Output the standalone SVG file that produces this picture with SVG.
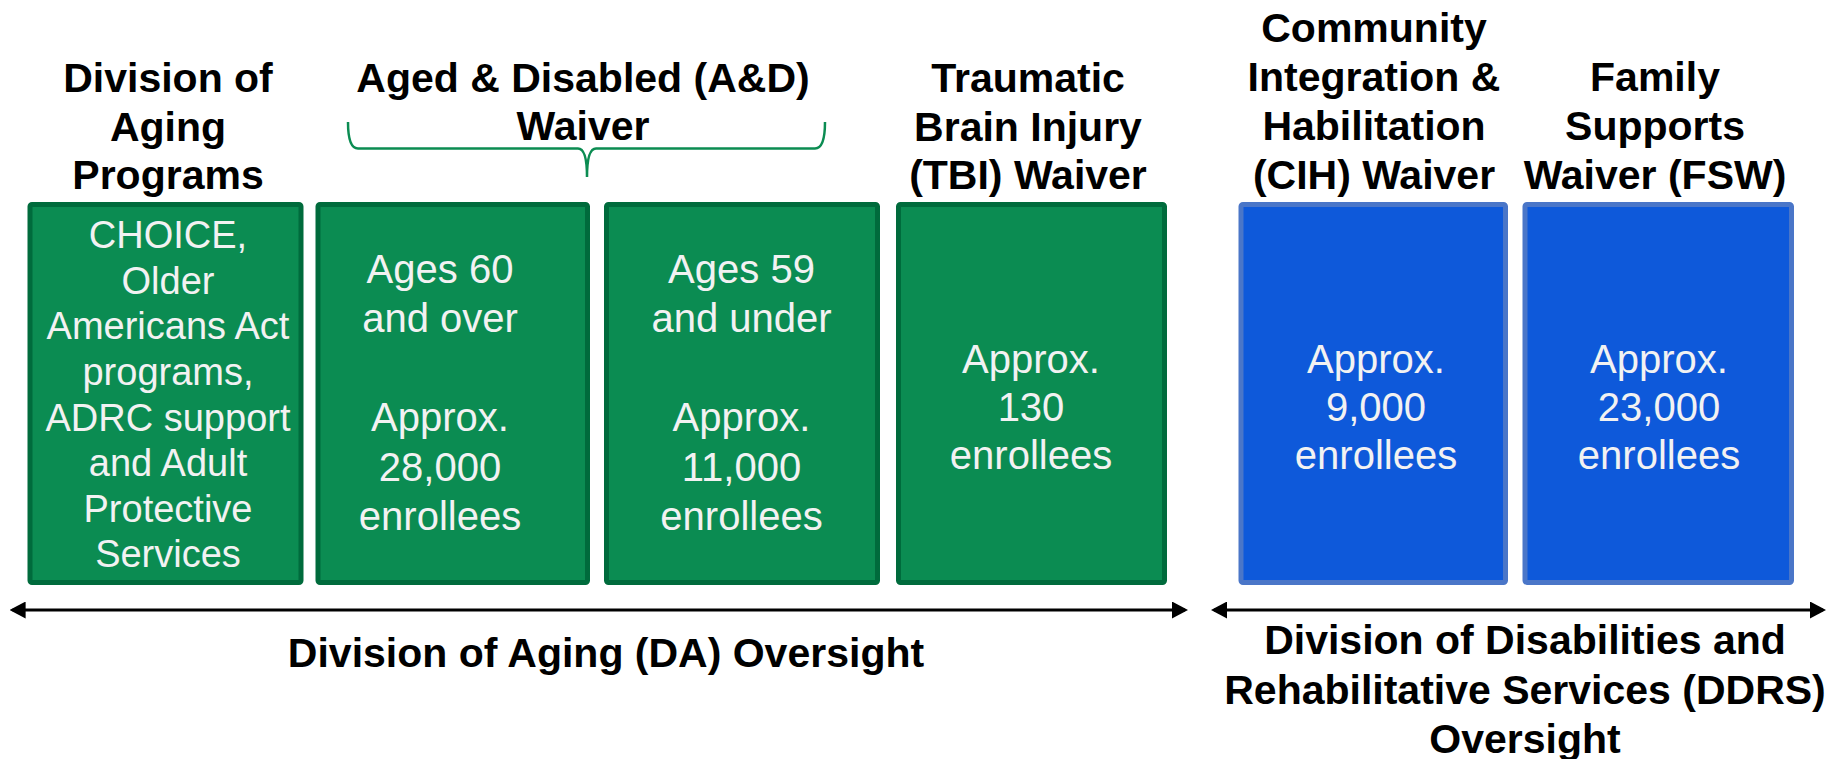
<svg xmlns="http://www.w3.org/2000/svg" width="1843" height="759" viewBox="0 0 1843 759">
<defs>
<style>
.hdr{font-family:"Liberation Sans",Arial,sans-serif;font-weight:bold;font-size:41px;fill:#000;text-anchor:middle}
.bt{font-family:"Liberation Sans",Arial,sans-serif;font-size:40px;fill:#F2F2F2;text-anchor:middle}
.bt1{font-family:"Liberation Sans",Arial,sans-serif;font-size:38px;fill:#F2F2F2;text-anchor:middle}
.gbox{fill:#0B8C52;stroke:#006B3C;stroke-width:5}
.bbox{fill:#0E59DA;stroke:#4A76C8;stroke-width:5}
.arr{stroke:#000;stroke-width:3;fill:none;marker-start:url(#ah);marker-end:url(#ah)}
.brace{stroke:#0B8C52;stroke-width:2.5;fill:none}
</style>
<marker id="ah" viewBox="0 0 16 17" refX="13" refY="8.5" markerWidth="16" markerHeight="17" markerUnits="userSpaceOnUse" orient="auto-start-reverse">
<path d="M0,0 L16,8.5 L0,17 z" fill="#000"/>
</marker>
</defs>
<rect width="1843" height="759" fill="#fff"/>

<g id="hdr-aging">
<text class="hdr" x="168" y="92">Division of</text>
<text class="hdr" x="168" y="140.5">Aging</text>
<text class="hdr" x="168" y="189">Programs</text>
</g>
<g id="hdr-ad">
<text class="hdr" x="583" y="92">Aged &amp; Disabled (A&amp;D)</text>
<text class="hdr" x="583" y="140">Waiver</text>
<path class="brace" d="M348,122 Q348,148.5 358,148.5 L578,148.5 Q587,148.5 587,177 Q587,148.5 596,148.5 L815,148.5 Q825,148.5 825,122"/>
</g>
<g id="hdr-tbi">
<text class="hdr" x="1028" y="92">Traumatic</text>
<text class="hdr" x="1028" y="140.5">Brain Injury</text>
<text class="hdr" x="1028" y="189">(TBI) Waiver</text>
</g>
<g id="hdr-cih">
<text class="hdr" x="1374" y="42">Community</text>
<text class="hdr" x="1374" y="91">Integration &amp;</text>
<text class="hdr" x="1374" y="140">Habilitation</text>
<text class="hdr" x="1374" y="189">(CIH) Waiver</text>
</g>
<g id="hdr-fsw">
<text class="hdr" x="1655" y="91">Family</text>
<text class="hdr" x="1655" y="140">Supports</text>
<text class="hdr" x="1655" y="189">Waiver (FSW)</text>
</g>

<g id="box-aging">
<rect class="gbox" x="30" y="204.5" width="271" height="378" rx="2"/>
<text class="bt1" x="168" y="248">CHOICE,</text>
<text class="bt1" x="168" y="293.7">Older</text>
<text class="bt1" x="168" y="339.4">Americans Act</text>
<text class="bt1" x="168" y="385">programs,</text>
<text class="bt1" x="168" y="430.6">ADRC support</text>
<text class="bt1" x="168" y="476.2">and Adult</text>
<text class="bt1" x="168" y="521.8">Protective</text>
<text class="bt1" x="168" y="567.4">Services</text>
</g>
<g id="box-ad60">
<rect class="gbox" x="318" y="204.5" width="269.5" height="378" rx="2"/>
<text class="bt" x="440" y="283">Ages 60</text>
<text class="bt" x="440" y="332.4">and over</text>
<text class="bt" x="440" y="431.2">Approx.</text>
<text class="bt" x="440" y="480.6">28,000</text>
<text class="bt" x="440" y="530">enrollees</text>
</g>
<g id="box-ad59">
<rect class="gbox" x="606.5" y="204.5" width="271" height="378" rx="2"/>
<text class="bt" x="741.5" y="283">Ages 59</text>
<text class="bt" x="741.5" y="332.4">and under</text>
<text class="bt" x="741.5" y="431.2">Approx.</text>
<text class="bt" x="741.5" y="480.6">11,000</text>
<text class="bt" x="741.5" y="530">enrollees</text>
</g>
<g id="box-tbi">
<rect class="gbox" x="898.5" y="204.5" width="266" height="378" rx="2"/>
<text class="bt" x="1031" y="373">Approx.</text>
<text class="bt" x="1031" y="421">130</text>
<text class="bt" x="1031" y="469">enrollees</text>
</g>
<g id="box-cih">
<rect class="bbox" x="1241" y="204.5" width="264.5" height="378" rx="2"/>
<text class="bt" x="1376" y="373">Approx.</text>
<text class="bt" x="1376" y="421">9,000</text>
<text class="bt" x="1376" y="469">enrollees</text>
</g>
<g id="box-fsw">
<rect class="bbox" x="1525" y="204.5" width="266.5" height="378" rx="2"/>
<text class="bt" x="1659" y="373">Approx.</text>
<text class="bt" x="1659" y="421">23,000</text>
<text class="bt" x="1659" y="469">enrollees</text>
</g>

<g id="connectors">
<line class="arr" x1="12.6" y1="610" x2="1185" y2="610"/>
<line class="arr" x1="1214" y1="610" x2="1823" y2="610"/>
</g>

<g id="label-da">
<text class="hdr" x="606" y="667">Division of Aging (DA) Oversight</text>
</g>
<g id="label-ddrs">
<text class="hdr" x="1525" y="654">Division of Disabilities and</text>
<text class="hdr" x="1525" y="704">Rehabilitative Services (DDRS)</text>
<text class="hdr" x="1525" y="753">Oversight</text>
</g>
</svg>
